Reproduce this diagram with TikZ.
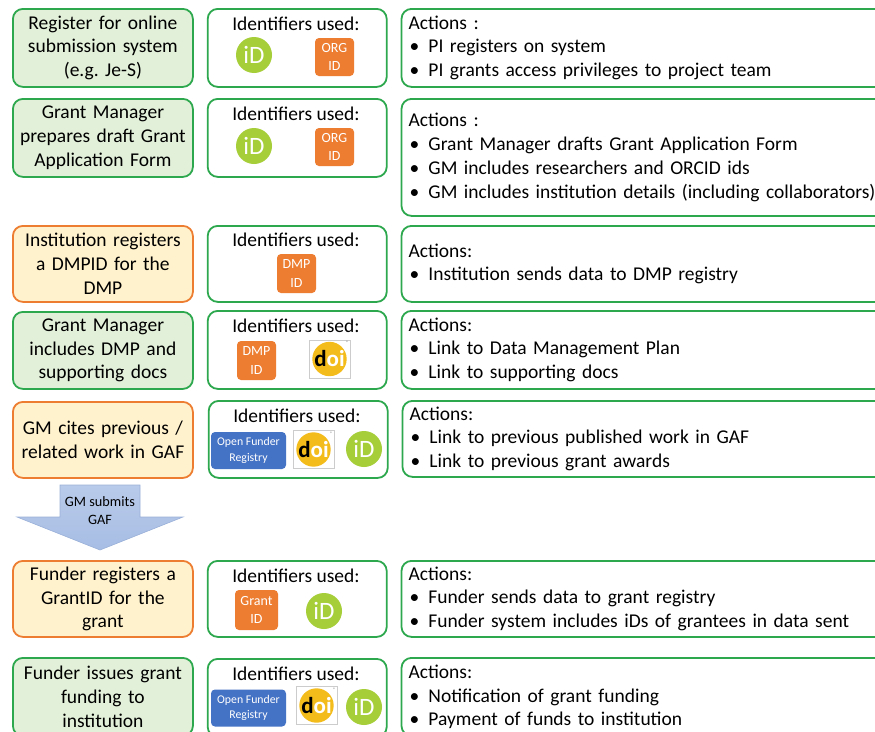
\documentclass[tikz,border=0pt]{standalone}
\usepackage{fontspec}
\setmainfont{Carlito}
\usetikzlibrary{positioning}
\definecolor{stepgreen}{HTML}{2EA84E}
\definecolor{greenfill}{HTML}{E2F0D9}
\definecolor{steporange}{HTML}{ED7D31}
\definecolor{orangefill}{HTML}{FFF2CC}
\definecolor{funderblue}{HTML}{4472C4}
\definecolor{orcidgreen}{HTML}{A6CE39}
\definecolor{doiyellow}{HTML}{F4BC1A}
\definecolor{arrowtop}{HTML}{B9CBEA}
\definecolor{arrowbottom}{HTML}{A7BDE4}
\definecolor{arrowedge}{HTML}{9AB0D8}
\newcommand\doimark[2]{%
  \node (#1) [doibox] at (#2) {};
  \node [doicircle] at (#1) {\textbf{d\textcolor{white}{oi}}};
  \node [anchor=north east, inner sep=1.5pt, text=gray, font=\fontsize{5}{5}\selectfont] at (#1.north east) {®};}
\newcommand\act{\par\hspace*{1pt}\makebox[19pt][l]{\textbullet}}
\frenchspacing

\begin{document}
\begin{tikzpicture}[x=1pt, y=-1pt, font=\fontsize{19.5}{23.8}\selectfont]
  \tikzstyle{greenstep} = [rectangle, rounded corners=10pt, draw=stepgreen, line width=1.8pt, fill=greenfill, minimum width=180pt, minimum height=78pt, text width=176pt, inner sep=0pt, align=center, anchor=north west]
  \tikzstyle{orangestep} = [greenstep, draw=steporange, fill=orangefill]
  \tikzstyle{idpanel} = [rectangle, rounded corners=10pt, draw=stepgreen, line width=1.8pt, fill=white, minimum width=179pt, minimum height=78pt, inner sep=0pt]
  \tikzstyle{actpanel} = [idpanel, minimum width=490pt, text width=476pt, inner xsep=7pt, align=left]
  \tikzstyle{idtitle} = [inner sep=0pt]
  \tikzstyle{orcid} = [circle, fill=orcidgreen, minimum size=36pt, inner sep=0pt, text=white, font=\fontsize{25}{25}\selectfont]
  \tikzstyle{idbox} = [rectangle, rounded corners=4pt, fill=steporange, minimum width=39pt, minimum height=38pt, inner sep=0pt, align=center, text=white, font=\fontsize{14}{18.5}\selectfont]
  \tikzstyle{funder} = [rectangle, rounded corners=4pt, fill=funderblue, minimum width=75pt, minimum height=37pt, inner sep=0pt, align=center, text=white, font=\fontsize{11.8}{15.5}\selectfont]
  \tikzstyle{doibox} = [rectangle, draw=black!20, line width=0.6pt, fill=white, minimum width=41pt, minimum height=38pt, inner sep=0pt]
  \tikzstyle{doicircle} = [circle, fill=doiyellow, minimum size=33pt, inner sep=0pt, font=\fontsize{23}{23}\selectfont]

  \path[use as bounding box, clip] (0,0) rectangle (875,731);

  % row 1
  \node (reg) [greenstep] at (12,8) {Register for online\\ submission system\\ (e.g. Je-S)};
  \node (ids1) [idpanel, right=13pt of reg.north east, anchor=north west] {};
  \node (act1) [actpanel, right=13pt of ids1.north east, anchor=north west] {Actions :\act PI registers on system\act PI grants access privileges to project team};
  \node [idtitle] at (296,24) {Identifiers used:};
  \node (orc1) [orcid] at (254,55) {iD};
  \node (org1) [idbox] at (334.5,57) {ORG\\ID};

  % row 2
  \node (gaf) [greenstep] at (12,98) {Grant Manager\\ prepares draft Grant\\ Application Form};
  \node (ids2) [idpanel, right=13pt of gaf.north east, anchor=north west] {};
  \node (act2) [actpanel, minimum height=117pt, right=13pt of ids2.north east, anchor=north west] {Actions :\act Grant Manager drafts Grant Application Form\act GM includes researchers and ORCID ids\act GM includes institution details (including collaborators)};
  \node [idtitle] at (296,114) {Identifiers used:};
  \node (orc2) [orcid] at (254,146) {iD};
  \node (org2) [idbox] at (334.5,147) {ORG\\ID};

  % row 3
  \node (dmp) [orangestep, minimum height=76pt] at (12,225) {Institution registers\\ a DMPID for the\\ DMP};
  \node (ids3) [idpanel, minimum height=76pt, right=13pt of dmp.north east, anchor=north west] {};
  \node (act3) [actpanel, minimum height=76pt, right=13pt of ids3.north east, anchor=north west] {Actions:\act Institution sends data to DMP registry};
  \node [idtitle] at (296,240) {Identifiers used:};
  \node (dmpid1) [idbox, minimum height=39pt] at (296.5,273.5) {DMP\\ID};

  % row 4
  \node (docs) [greenstep, minimum height=77pt] at (12,311) {Grant Manager\\ includes DMP and\\ supporting docs};
  \node (ids4) [idpanel, minimum height=78pt, right=13pt of docs.north east, anchor=north west, yshift=1pt] {};
  \node (act4) [actpanel, right=13pt of ids4.north east, anchor=north west] {Actions:\act Link to Data Management Plan\act Link to supporting docs};
  \node [idtitle] at (296,326) {Identifiers used:};
  \node (dmpid2) [idbox, minimum height=39pt] at (256.5,360.5) {DMP\\ID};
  \doimark{doi4}{329.5,359}

  % row 5
  \node (cite) [orangestep, minimum height=76pt] at (12,401) {GM cites previous /\\ related work in GAF};
  \node (ids5) [idpanel, minimum height=77pt, right=14pt of cite.north east, anchor=north west, yshift=1pt] {};
  \node (act5) [actpanel, minimum height=76pt, right=13pt of ids5.north east, anchor=north west] {Actions:\act Link to previous published work in GAF\act Link to previous grant awards};
  \node [idtitle] at (297,416) {Identifiers used:};
  \node (ofr5) [funder] at (248.5,450.5) {Open Funder\\Registry};
  \doimark{doi5}{313.5,449.5}
  \node (orc5) [orcid] at (364,449) {iD};

  % submission arrow
  \path[draw=arrowedge, line width=0.6pt, top color=arrowtop, bottom color=arrowbottom]
    (60,485) -- (140,485) -- (140,517) -- (183,517) -- (100,550) -- (17,517) -- (60,517) -- cycle;
  \node (submit) [align=center, font=\fontsize{14.3}{18}\selectfont] at (100,511) {GM submits\\GAF};

  % row 6
  \node (grant) [orangestep, minimum height=76pt] at (12,560) {Funder registers a\\ GrantID for the\\ grant};
  \node (ids6) [idpanel, minimum height=76pt, right=13pt of grant.north east, anchor=north west] {};
  \node (act6) [actpanel, minimum height=76pt, right=13pt of ids6.north east, anchor=north west] {Actions:\act Funder sends data to grant registry\act Funder system includes iDs of grantees in data sent};
  \node [idtitle] at (296,576) {Identifiers used:};
  \node (gid) [idbox, minimum width=43pt, minimum height=40pt] at (256.5,610) {Grant\\ID};
  \node (orc6) [orcid] at (324,611) {iD};

  % row 7
  \node (fund) [greenstep] at (12,657) {Funder issues grant\\ funding to\\ institution};
  \node (ids7) [idpanel, right=13pt of fund.north east, anchor=north west, yshift=-1pt] {};
  \node (act7) [actpanel, right=13pt of ids7.north east, anchor=north west, yshift=1pt] {Actions:\act Notification of grant funding\act Payment of funds to institution};
  \node [idtitle] at (296,674) {Identifiers used:};
  \node (ofr7) [funder] at (248.5,708) {Open Funder\\Registry};
  \doimark{doi7}{316.5,705.5}
  \node (orc7) [orcid] at (364,707) {iD};
\end{tikzpicture}
\end{document}
